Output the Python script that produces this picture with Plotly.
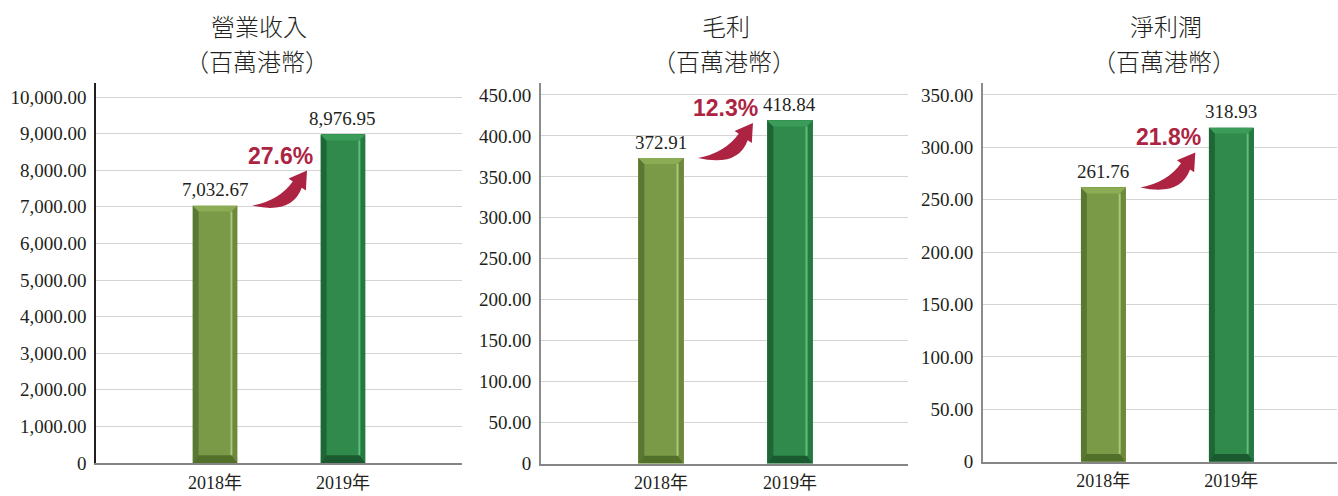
import math
import plotly.graph_objects as go

# ---------------- data ----------------
years = ["2018年", "2019年"]
revenue = [7032.67, 8976.95]
gross_profit = [372.91, 418.84]
net_profit = [261.76, 318.93]
growth = ["27.6%", "12.3%", "21.8%"]
titles = ["營業收入", "毛利", "淨利潤"]
unit_label = "（百萬港幣）"
rev_ticks = [0, 1000, 2000, 3000, 4000, 5000, 6000, 7000, 8000, 9000, 10000]
gp_ticks = [0, 50, 100, 150, 200, 250, 300, 350, 400, 450]
np_ticks = [0, 50, 100, 150, 200, 250, 300, 350]

series = [revenue, gross_profit, net_profit]
ticks = [rev_ticks, gp_ticks, np_ticks]

# ---------------- style / layout ----------------
W, H = 1338, 496
SERIF = "Liberation Serif, 'Noto Sans CJK TC', serif"
CJK = "'Noto Sans CJK TC', 'Noto Sans CJK SC', sans-serif"
TXT = "#231f20"
RED = "#ad2443"
GRID = "#d4d4d4"

panels = [
    dict(x0=96, x1=462, ytop=83, ybot=463, xr=[-0.93, 1.93], ytop_val=10383,
         axis_color="#231f20", axis_w=1.5, title_x=259),
    dict(x0=541, x1=908, ytop=83, ybot=463.5, xr=[-0.93, 1.915], ytop_val=464.6,
         axis_color="#8c8c8c", axis_w=2, title_x=726),
    dict(x0=983, x1=1337, ytop=83, ybot=461.7, xr=[-0.94, 1.826], ytop_val=361.4,
         axis_color="#8c8c8c", axis_w=2, title_x=1166),
]

bar_cols = [
    dict(main="#7b9a47", left="#5b7832", top="#8cab55", right="#6d8a3c", hi="#a9c87c", bot="#53702b"),
    dict(main="#2f8a4b", left="#1f6636", top="#3b9b59", right="#267a41", hi="#5cc07c", bot="#1b5a30"),
]
BAR_W = 0.35
BEVEL = 6  # px

fig = go.Figure()
shapes = []
annotations = []


def fmt(v):
    return "0" if v == 0 else f"{v:,.2f}"


for k, (vals, p) in enumerate(zip(series, panels)):
    sfx = "" if k == 0 else str(k + 1)
    xa, ya = "x" + sfx, "y" + sfx
    xdom = [p["x0"] / W, p["x1"] / W]
    ydom = [(H - p["ybot"]) / H, (H - p["ytop"]) / H]
    yr = [0, p["ytop_val"]]
    sx = (p["x1"] - p["x0"]) / (p["xr"][1] - p["xr"][0])
    sy = (p["ybot"] - p["ytop"]) / (yr[1] - yr[0])
    xs = list(range(len(years)))

    fig.add_trace(go.Bar(
        x=xs, y=vals, width=BAR_W, xaxis=xa, yaxis=ya,
        marker=dict(color=[c["main"] for c in bar_cols], line=dict(width=0)),
        hoverinfo="skip", showlegend=False,
    ))

    fig.layout["xaxis" + sfx] = dict(
        domain=xdom, range=p["xr"], anchor=ya, tickvals=xs, ticktext=years,
        showgrid=False, zeroline=False, showline=True, linecolor="#858585", linewidth=2,
        ticks="", tickfont=dict(family=SERIF, size=18, color=TXT), ticklabelstandoff=2,
        fixedrange=True, automargin=False,
    )
    fig.layout["yaxis" + sfx] = dict(
        domain=ydom, range=yr, anchor=xa, tickvals=ticks[k],
        ticktext=[fmt(v) for v in ticks[k]],
        showgrid=True, gridcolor=GRID, gridwidth=1, zeroline=False,
        showline=True, linecolor=p["axis_color"], linewidth=p["axis_w"],
        ticks="", tickfont=dict(family=SERIF, size=19, color=TXT), ticklabelstandoff=4,
        fixedrange=True, automargin=False,
    )

    bx, by = BEVEL / sx, BEVEL / sy
    hw = BAR_W / 2

    def P(pts):
        s = "M " + " L ".join(f"{x:.5f},{y:.5f}" for x, y in pts) + " Z"
        return s

    for i, v in enumerate(vals):
        c = bar_cols[i]
        L, R = i - hw, i + hw
        common = dict(xref=xa, yref=ya, type="path", line=dict(width=0), layer="above")
        shapes.append(dict(path=P([(L, 0), (L, v), (L + bx, v - by), (L + bx, by)]),
                           fillcolor=c["left"], **common))
        shapes.append(dict(path=P([(R, 0), (R, v), (R - bx, v - by), (R - bx, by)]),
                           fillcolor=c["right"], **common))
        shapes.append(dict(path=P([(L, v), (R, v), (R - bx, v - by), (L + bx, v - by)]),
                           fillcolor=c["top"], **common))
        shapes.append(dict(path=P([(L, 0), (R, 0), (R - bx, by * 1.3), (L + bx, by * 1.3)]),
                           fillcolor=c["bot"], **common))
        shapes.append(dict(type="line", xref=xa, yref=ya, x0=R - bx, x1=R - bx,
                           y0=by * 1.3, y1=v - by, line=dict(color=c["hi"], width=2),
                           layer="above"))
        # value label
        annotations.append(dict(xref=xa, yref=ya, x=i, y=v, text=fmt(v), showarrow=False,
                                yanchor="middle", yshift=16,
                                font=dict(family=SERIF, size=19, color=TXT)))

    # curved growth arrow (pixel-styled, anchored at first bar top)
    v0 = vals[0]
    tail_off = 37  # px right of first bar centre
    run, rise = 55, 35
    ang = math.radians(55)
    d = (math.cos(ang), math.sin(ang))
    n = (-d[1], d[0])
    Lh, Wh, hb = 17, 10.5, 5.5
    tip = (run, rise)
    B = (tip[0] - Lh * d[0], tip[1] - Lh * d[1])
    up_end = (B[0] + hb * n[0], B[1] + hb * n[1])
    lo_start = (B[0] - hb * n[0], B[1] - hb * n[1])
    h1 = (B[0] + Wh * n[0], B[1] + Wh * n[1])
    h2 = (B[0] - Wh * n[0], B[1] - Wh * n[1])
    cu = (27, 5)
    cl = (40, -9)

    def C(pt):
        return f"{(tail_off + pt[0]) / sx:.5f},{v0 + pt[1] / sy:.5f}"

    path = (f"M {C((0, 0))} Q {C(cu)} {C(up_end)} L {C(h1)} L {C(tip)} L {C(h2)} "
            f"L {C(lo_start)} Q {C(cl)} {C((0, 0))} Z")
    shapes.append(dict(type="path", xref=xa, yref=ya, path=path, fillcolor=RED,
                       line=dict(width=0), layer="above"))
    annotations.append(dict(xref=xa, yref=ya, x=(tail_off + 28) / sx, y=v0, text=growth[k],
                            showarrow=False, yanchor="middle", yshift=50,
                            font=dict(family="Liberation Sans, Arial, sans-serif", size=23,
                                      color=RED, weight="bold")))

    # titles
    annotations.append(dict(xref="paper", yref="paper", x=p["title_x"] / W, y=1 - 25 / H,
                            text=titles[k], showarrow=False, xanchor="center", yanchor="middle",
                            font=dict(family=CJK, size=24, color=TXT, weight=300)))
    annotations.append(dict(xref="paper", yref="paper", x=(p["title_x"] - 2) / W, y=1 - 60 / H,
                            text=unit_label, showarrow=False, xanchor="center", yanchor="middle",
                            font=dict(family=CJK, size=24, color=TXT, weight=300)))

fig.update_layout(
    width=W, height=H, margin=dict(l=0, r=0, t=0, b=0, autoexpand=False),
    paper_bgcolor="white", plot_bgcolor="white",
    shapes=shapes, annotations=annotations, bargap=0, showlegend=False,
)

post = (
    "document.body.style.margin='0px';"
    "document.body.style.overflow='hidden';"
)
fig.write_html("out.html", config={"displayModeBar": False}, post_script=post)
